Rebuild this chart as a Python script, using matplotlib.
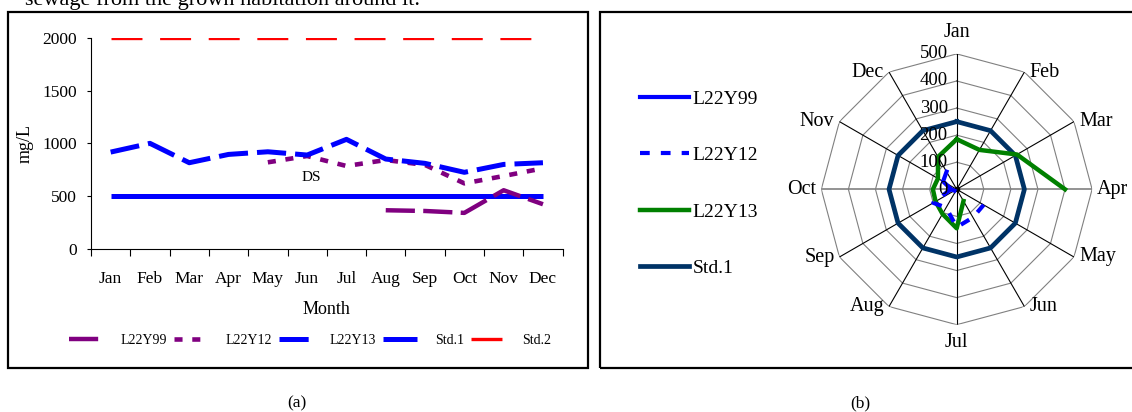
import numpy as np
import matplotlib
matplotlib.use("Agg")
import matplotlib.pyplot as plt
from matplotlib.patches import Rectangle

plt.rcParams['font.family'] = ['Liberation Serif', 'DejaVu Serif']
plt.rcParams['lines.scale_dashes'] = False

# ---------------- data ----------------
months = ['Jan', 'Feb', 'Mar', 'Apr', 'May', 'Jun', 'Jul', 'Aug', 'Sep', 'Oct', 'Nov', 'Dec']
nan = np.nan

# panel (a): mg/L
a_L22Y99 = [nan, nan, nan, nan, nan, nan, nan, 365, 358, 340, 555, 422]
a_L22Y12 = [nan, nan, nan, nan, 820, 880, 785, 842, 795, 620, 690, 763]
a_L22Y13 = [917, 1000, 816, 895, 920, 889, 1038, 851, 810, 725, 800, 816]
a_Std1 = [500] * 12
a_Std2 = [2000] * 12
a_yticks = [0, 500, 1000, 1500, 2000]

# panel (b): radar
b_L22Y99 = [nan, nan, nan, nan, nan, nan, nan, nan, 10, 20, 58, 75]
b_L22Y12 = [nan, nan, nan, nan, 115, 120, 140, 78, 100, 22, nan, nan]
b_L22Y13 = [185, 168, 257, 400, nan, 50, 144, 105, 90, 88, 80, 138]
b_Std1 = [250] * 12
b_rings = [0, 100, 200, 300, 400, 500]

W, H = 1132, 412
fig = plt.figure(figsize=(W / 100, H / 100), dpi=100)

def fx(px):
    return px / W

def fy(py):
    return 1 - py / H

# top text (cut by the page edge, as in the source)
fig.text(fx(25), fy(5), 'sewage from the grown habitation around it.', fontsize=16,
         va='baseline', ha='left')

# frames
fig.patches.append(Rectangle((fx(8), fy(368)), fx(588) - fx(8), fy(12) - fy(368),
                             transform=fig.transFigure, fill=False, lw=1.6, ec='black'))
fig.patches.append(Rectangle((fx(600), fy(368)), fx(1140) - fx(600), fy(12) - fy(368),
                             transform=fig.transFigure, fill=False, lw=1.6, ec='black'))

# ---------------- panel (a) ----------------
ax = fig.add_axes([fx(91), fy(248.7), fx(562.6) - fx(91), fy(38) - fy(248.7)])
x = np.arange(len(months))
purple, blue, red = '#800080', '#0000FF', '#FF0000'

l_std1, = ax.plot(x, a_Std1, color=blue, lw=3.6, solid_capstyle='butt', label='Std.1')
l_std2, = ax.plot(x, a_Std2, color=red, lw=2.4, linestyle=(0, (22.3, 12.7)), label='Std.2')
l99, = ax.plot(x, a_L22Y99, color=purple, lw=3.2, linestyle=(0, (21, 6)), label='L22Y99')
l12, = ax.plot(x, a_L22Y12, color=purple, lw=3.3, linestyle=(0, (5.8, 7.0)), label='L22Y12')
l13, = ax.plot(x, a_L22Y13, color=blue, lw=3.6, linestyle=(0, (21, 6.5)), label='L22Y13')

ax.text(5.1, 680, 'DS', ha='center', va='center', fontsize=11)

ax.set_xlim(-0.5, 11.5)
ax.set_ylim(0, 2000)
ax.set_yticks(a_yticks)
ax.set_xticks(x)
ax.set_xticklabels(months)
ax.set_xticks(np.arange(-0.5, 12, 1), minor=True)
ax.tick_params(axis='x', which='major', length=0, pad=16, labelsize=12.5)
ax.tick_params(axis='x', which='minor', length=5, width=0.8, direction='out')
ax.tick_params(axis='y', length=3, width=0.8, direction='out', labelsize=12.5, pad=7)
for s in ['top', 'right']:
    ax.spines[s].set_visible(False)
for s in ['left', 'bottom']:
    ax.spines[s].set_linewidth(0.8)
ax.set_xlabel('Month', fontsize=13, labelpad=10)
ax.set_ylabel('mg/L', fontsize=13)
ax.yaxis.set_label_coords(-0.122, 0.5)

fig.legend(handles=[l99, l12, l13, l_std1, l_std2],
           labels=['L22Y99', 'L22Y12', 'L22Y13', 'Std.1', 'Std.2'],
           loc='center', bbox_to_anchor=(fx(310), fy(340)), ncol=5, frameon=False,
           fontsize=10, handlelength=2.4, handletextpad=1.3, columnspacing=0.5,
           borderpad=0, borderaxespad=0)

fig.text(fx(297), fy(403), '(a)', ha='center', va='center', fontsize=12.5)
fig.text(fx(860), fy(403), '(b)', ha='center', va='center', fontsize=12.5)

# ---------------- panel (b) radar ----------------
cx, cy, R = 956.7, 189.3, 135.4
pax = fig.add_axes([fx(cx - R), fy(cy + R), fx(2 * R), (2 * R) / H], projection='polar')
pax.set_theta_zero_location('N')
pax.set_theta_direction(-1)
pax.set_ylim(0, 500)
pax.set_xticks([])
pax.set_yticks([])
pax.grid(False)
pax.spines['polar'].set_visible(False)
pax.patch.set_alpha(0)

theta = np.arange(12) * 2 * np.pi / 12
theta_c = np.append(theta, theta[0])

for r in b_rings[1:]:
    pax.plot(theta_c, [r] * 13, color='#808080', lw=0.8, zorder=1)
for i, t in enumerate(theta):
    col = '#808080' if i in (3, 9) else 'black'
    lw = 1.2 if i in (3, 9) else 0.8
    pax.plot([t, t], [0, 500], color=col, lw=lw, zorder=1)
pax.plot([0], [0], 'o', color='black', ms=3, zorder=2)

def closed(v):
    return np.append(v, v[0])

navy, green = '#003366', '#008000'
r_std, = pax.plot(theta_c, closed(b_Std1), color=navy, lw=3.4, zorder=3)
r13, = pax.plot(theta_c, closed(b_L22Y13), color=green, lw=3.2, zorder=4)
r99, = pax.plot(theta_c, closed(b_L22Y99), color=blue, lw=3.0, zorder=5)
r12, = pax.plot(theta_c, closed(b_L22Y12), color=blue, lw=3.0,
                linestyle=(0, (7, 8)), zorder=5)

for r in b_rings:
    pax.annotate(str(r), xy=(0, r), xytext=(-9, 0), textcoords='offset pixels',
                 ha='right', va='center', fontsize=13.5, zorder=6)

for i, (t, m) in enumerate(zip(theta, months)):
    s, c = np.sin(t), np.cos(t)
    ha = 'left' if s > 0.1 else ('right' if s < -0.1 else 'center')
    if i == 0:
        pax.annotate(m, xy=(t, 500), xytext=(0, 12), textcoords='offset pixels',
                     ha='center', va='bottom', fontsize=14.5)
    elif i == 6:
        pax.annotate(m, xy=(t, 500), xytext=(0, -8), textcoords='offset pixels',
                     ha='center', va='top', fontsize=14.5)
    else:
        pax.annotate(m, xy=(t, 500), xytext=(5 * np.sign(s), 0), textcoords='offset pixels',
                     ha=ha, va='center', fontsize=14.5)

fig.legend(handles=[r99, r12, r13, r_std],
           labels=['L22Y99', 'L22Y12', 'L22Y13', 'Std.1'],
           loc='center left', bbox_to_anchor=(fx(640), fy(183.5)), frameon=False,
           fontsize=14, handlelength=2.5, handletextpad=0.2, labelspacing=2.0,
           borderpad=0, borderaxespad=0)

fig.savefig('out.png', dpi=100)
